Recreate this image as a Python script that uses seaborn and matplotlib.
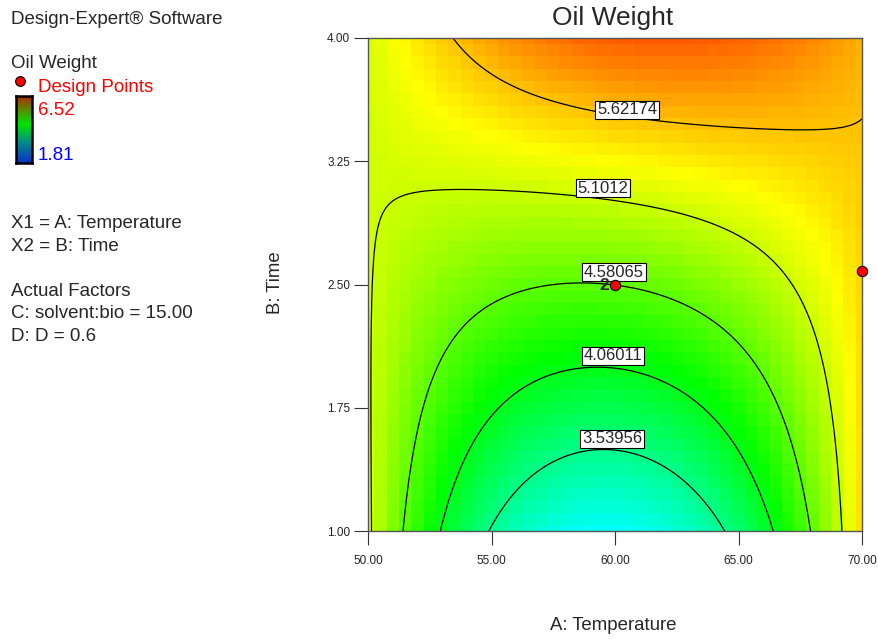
import numpy as np
import matplotlib
matplotlib.use("Agg")
import matplotlib.pyplot as plt
from matplotlib.colors import LinearSegmentedColormap
from matplotlib.lines import Line2D
import seaborn as sns

# ---------------- data ----------------
# response readings (contour crossings and colour readings): temperature, time, oil weight
obs_temp = [50.15, 51.42, 52.90, 54.94, 64.45, 66.40, 67.90, 69.23,
            60.00, 60.00, 60.00, 60.00, 60.00,
            50.43, 50.77, 51.09, 51.78, 53.40, 57.77, 67.49, 68.42, 68.62,
            53.39, 57.77, 59.26, 62.63, 67.49, 69.50, 70.00,
            52.31, 56.96, 64.79, 66.48,
            55.62, 63.44,
            57.77, 63.44,
            50.00, 61.80, 70.00, 70.00]
obs_time = [1.00, 1.00, 1.00, 1.00, 1.00, 1.00, 1.00, 1.00,
            1.492, 1.998, 2.509, 3.026, 3.52,
            2.71, 2.953, 3.034, 3.069, 3.08, 3.044, 2.375, 1.918, 1.797,
            4.00, 3.59, 3.54, 3.47, 3.43, 3.43, 3.477,
            1.797, 2.507, 2.172, 1.797,
            1.797, 1.77,
            1.444, 1.209,
            4.00, 4.00, 4.00, 2.50]
obs_weight = [5.1012, 4.58065, 4.06011, 3.53956, 3.53956, 4.06011, 4.58065, 5.1012,
              3.53956, 4.06011, 4.58065, 5.1012, 5.62174,
              5.1012, 5.1012, 5.1012, 5.1012, 5.1012, 5.1012, 5.1012, 5.1012, 5.1012,
              5.62174, 5.62174, 5.62174, 5.62174, 5.62174, 5.62174, 5.62174,
              4.58065, 4.58065, 4.58065, 4.58065,
              4.06011, 4.06011,
              3.53956, 3.53956,
              5.15, 6.08, 5.70, 5.45]

contour_levels = [3.53956, 4.06011, 4.58065, 5.1012, 5.62174]
design_temp = [60.00, 70.00]
design_time = [2.50, 2.58]
x_ticks = [50.00, 55.00, 60.00, 65.00, 70.00]
y_ticks = [1.00, 1.75, 2.50, 3.25, 4.00]
resp_low, resp_high = 1.81, 6.52
temp_range = (50.0, 70.0)
time_range = (1.0, 4.0)

# ---------------- model fit (response surface) ----------------
def coded(t, h):
    return (np.asarray(t) - 60.0) / 10.0, (np.asarray(h) - 2.5) / 1.5

def basis(A, B):
    return np.stack([np.ones_like(A), A, B, A * B, A ** 2, B ** 2,
                     A ** 2 * B, A * B ** 2, A ** 2 * B ** 2], axis=-1)

A_o, B_o = coded(obs_temp, obs_time)
coef, *_ = np.linalg.lstsq(basis(A_o, B_o), np.asarray(obs_weight), rcond=None)

def predict(t, h):
    A, B = coded(t, h)
    return basis(A, B) @ coef

# ---------------- style ----------------
sns.set_style("white")
plt.rcParams['font.family'] = ['Liberation Sans', 'DejaVu Sans']

W, H = 879, 639
fig = plt.figure(figsize=(W / 100, H / 100), dpi=100)

def fx(px):
    return px / W

def fy(py):
    return 1 - py / H

ax = fig.add_axes([fx(368), fy(531), (862 - 368) / W, (531 - 38) / H])

cmap = LinearSegmentedColormap.from_list(
    "de", [(0, "#0000ff"), (0.25, "#00ffff"), (0.5, "#00ff00"),
           (0.75, "#ffff00"), (1.0, "#ff0000")])

# cells centred on a 41 x 41 grid of nodes (edge cells clipped by the axes)
nnode = 41
xn = np.linspace(*temp_range, nnode)
yn = np.linspace(*time_range, nnode)
dx = xn[1] - xn[0]
dy = yn[1] - yn[0]
xe = np.concatenate([[xn[0] - dx / 2], (xn[:-1] + xn[1:]) / 2, [xn[-1] + dx / 2]])
ye = np.concatenate([[yn[0] - dy / 2], (yn[:-1] + yn[1:]) / 2, [yn[-1] + dy / 2]])
XN, YN = np.meshgrid(xn, yn)
Z = predict(XN, YN)
ax.pcolormesh(xe, ye, Z, cmap=cmap, vmin=resp_low, vmax=resp_high,
              shading='flat', edgecolors='none', antialiased=False)

xf = np.linspace(*temp_range, 300)
yf = np.linspace(*time_range, 300)
XF, YF = np.meshgrid(xf, yf)
ZF = predict(XF, YF)
ax.contour(XF, YF, ZF, levels=contour_levels, colors='black', linewidths=0.9)

# contour labels (boxed)
label_pos = [(59.88, 1.56), (59.92, 2.065), (59.96, 2.575), (59.51, 3.087), (60.49, 3.562)]
for lev, (lx, ly) in zip(contour_levels, label_pos):
    ax.text(lx, ly, f"{lev:g}", ha='center', va='center', fontsize=12, zorder=6,
            bbox=dict(boxstyle='square,pad=0.1', facecolor='white',
                      edgecolor='black', linewidth=0.8))

# design points
sns.scatterplot(x=design_temp, y=design_time, ax=ax, color='red', edgecolor='black',
                linewidth=0.8, s=55, zorder=7, clip_on=False, legend=False)
ax.text(design_temp[0] - 0.22, design_time[0] - 0.005, "2", ha='right', va='center',
        fontsize=12.5, fontweight='bold', zorder=8)

ax.set_xlim(*temp_range)
ax.set_ylim(*time_range)
ax.set_xticks(x_ticks)
ax.set_xticklabels([f"{v:.2f}" for v in x_ticks])
ax.set_yticks(y_ticks)
ax.set_yticklabels([f"{v:.2f}" for v in y_ticks])
ax.tick_params(axis='both', which='major', direction='out', length=10, width=0.8,
               color='#333333', labelsize=8.5, labelcolor='#222222',
               bottom=True, left=True, top=False, right=False)
ax.tick_params(axis='x', pad=7)
ax.tick_params(axis='y', pad=3)
for s in ax.spines.values():
    s.set_color('#555555')
    s.set_linewidth(1.0)
ax.set_xlabel("")
ax.set_ylabel("")

# titles
fig.text(fx(613), fy(18), "Oil Weight", ha='center', va='center', fontsize=19)
fig.text(fx(613), fy(625), "A: Temperature", ha='center', va='center', fontsize=13.4)
fig.text(fx(276), fy(283), "B: Time", ha='center', va='center', rotation=90, fontsize=13.4)

# left information panel
fs = 13.5
fig.text(fx(11), fy(24.5), "Design-Expert® Software", fontsize=fs, va='baseline')
fig.text(fx(11), fy(68.5), "Oil Weight", fontsize=fs, va='baseline')
fig.add_artist(Line2D([fx(20)], [fy(81)], marker='o', markersize=7, markerfacecolor='red',
                      markeredgecolor='black', markeredgewidth=0.8, linestyle='none',
                      transform=fig.transFigure))
fig.text(fx(38), fy(92.5), "Design Points", fontsize=fs, va='baseline', color='red')
cax = fig.add_axes([fx(16), fy(163), 16 / W, 67 / H])
grad = np.linspace(0, 1, 100).reshape(-1, 1)
legend_cmap = LinearSegmentedColormap.from_list(
    "lg", [(0, "#0a32c8"), (0.3, "#008a8a"), (0.58, "#00e400"),
           (0.8, "#5c8a00"), (1.0, "#b02a00")])
cax.imshow(grad, aspect='auto', cmap=legend_cmap, origin='lower')
cax.set_xticks([])
cax.set_yticks([])
for s in cax.spines.values():
    s.set_color('black')
    s.set_linewidth(1.8)
fig.text(fx(38), fy(115), f"{resp_high:.2f}", fontsize=fs, va='baseline', color='red')
fig.text(fx(38), fy(160), f"{resp_low:.2f}", fontsize=fs, va='baseline', color='blue')
fig.text(fx(11), fy(228.5), "X1 = A: Temperature", fontsize=fs, va='baseline')
fig.text(fx(11), fy(251), "X2 = B: Time", fontsize=fs, va='baseline')
fig.text(fx(11), fy(296), "Actual Factors", fontsize=fs, va='baseline')
fig.text(fx(11), fy(318.5), "C: solvent:bio = 15.00", fontsize=fs, va='baseline')
fig.text(fx(11), fy(341), "D: D = 0.6", fontsize=fs, va='baseline')

fig.savefig("out.png", dpi=100)
